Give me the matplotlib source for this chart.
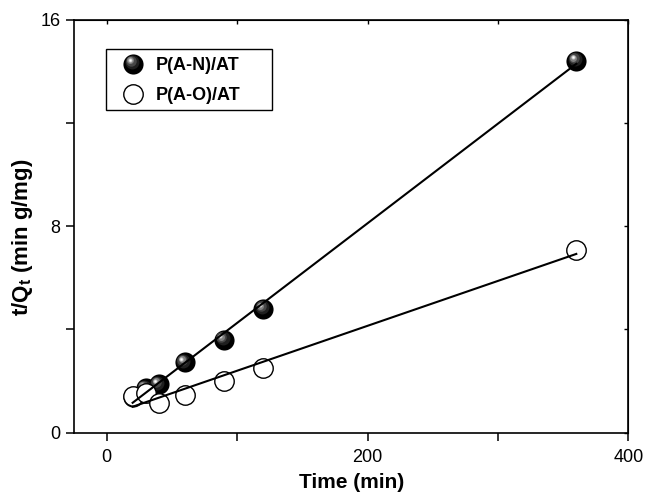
import numpy as np
import matplotlib
matplotlib.use('Agg')
import matplotlib.pyplot as plt
import matplotlib.transforms as mtransforms
from matplotlib.lines import Line2D
from matplotlib.patches import Rectangle
from matplotlib.ticker import MultipleLocator

plt.rcParams['font.family'] = ['Liberation Sans', 'DejaVu Sans']
plt.rcParams['mathtext.fontset'] = 'custom'
plt.rcParams['mathtext.rm'] = 'Liberation Sans'
plt.rcParams['mathtext.bf'] = 'Liberation Sans:bold'

# time (min) and t/Qt values
time_min = [20, 30, 40, 60, 90, 120, 360]
an_vals = [1.38, 1.72, 1.88, 2.72, 3.60, 4.80, 14.41]
ao_vals = [1.42, 1.53, 1.14, 1.44, 2.02, 2.51, 7.07]
labels = ['P(A-N)/AT', 'P(A-O)/AT']

MS = 14.5
# shaded ball look: (marker size, grey, dx pt, dy pt)
SPHERE = [(MS, '0.0', 0, 0), (10, '0.12', -1.0, 1.0), (7.5, '0.28', -1.8, 1.8),
          (5, '0.5', -2.3, 2.2), (3, '0.78', -2.6, 2.5), (1.5, '1.0', -2.6, 2.5)]


def draw_sphere(ax, x, y, z=2):
    fig = ax.figure
    for ms, c, dx, dy in SPHERE:
        tr = mtransforms.offset_copy(ax.transData, fig=fig, x=dx, y=dy, units='points')
        ax.plot(x, y, 'o', ms=ms, mfc=c, mec='none', transform=tr, zorder=z)


class SphereHandler:
    def legend_artist(self, legend, orig_handle, fontsize, handlebox):
        cx = handlebox.width / 2 - handlebox.xdescent
        cy = handlebox.height / 2 - handlebox.ydescent
        for ms, c, dx, dy in SPHERE:
            ln = Line2D([cx + dx], [cy + dy], marker='o', ls='none', ms=ms,
                        mfc=c, mec='none')
            handlebox.add_artist(ln)
        return ln


class Sphere:
    pass


x = np.array(time_min)

fig = plt.figure(figsize=(6.54, 4.95), dpi=100)
ax = fig.add_axes([0.113, 0.126, 0.848, 0.834])

draw_sphere(ax, x, an_vals)
ax.plot(x, ao_vals, 'o', ms=MS - 0.5, mfc='white', mec='black', mew=1.0, zorder=3)

# linear fits
xf = np.array([time_min[0], time_min[-1]])
for vals in (an_vals, ao_vals):
    k, b = np.polyfit(x, vals, 1)
    ax.plot(xf, k * xf + b, color='black', lw=1.5, zorder=4)

ax.set_xlim(-25, 400)
ax.set_ylim(0, 16)
ax.xaxis.set_major_locator(MultipleLocator(200))
ax.xaxis.set_minor_locator(MultipleLocator(100))
ax.yaxis.set_major_locator(MultipleLocator(8))
ax.yaxis.set_minor_locator(MultipleLocator(4))
ax.tick_params(which='both', direction='out', length=5.5, width=1.1, labelsize=13,
               top=False, right=False, pad=4)
ax.tick_params(axis='x', pad=6)
sx = ax.secondary_xaxis('top')
sx.set_xticks([0, 100, 200, 300, 400])
sx.tick_params(direction='in', length=3, width=1.0, labeltop=False)
sy = ax.secondary_yaxis('right')
sy.set_yticks([0, 4, 8, 12, 16])
sy.tick_params(direction='in', length=3, width=1.0, labelright=False)
for s in ax.spines.values():
    s.set_linewidth(1.2)

ax.set_xlabel('Time (min)', fontsize=15, fontweight='bold', labelpad=5)
ax.set_ylabel(r't/Q$_\mathbf{t}$ (min g/mg)', fontsize=16, fontweight='bold')
ax.yaxis.set_label_coords(-0.070, 0.474)

h_ao = Line2D([], [], marker='o', ls='none', ms=MS - 0.5, mfc='white', mec='black', mew=1.0)
leg = ax.legend([Sphere(), h_ao], labels, handler_map={Sphere: SphereHandler()},
                loc='upper left', bbox_to_anchor=(0.057, 0.93), frameon=False,
                borderaxespad=0, prop={'weight': 'bold', 'size': 13},
                handletextpad=0.15, handlelength=2.2, labelspacing=0.75, borderpad=0.45)
ax.add_patch(Rectangle((0.057, 0.782), 0.30, 0.148, transform=ax.transAxes,
                       fill=False, ec='black', lw=1.0, zorder=5))

fig.savefig('out.png', dpi=100)
